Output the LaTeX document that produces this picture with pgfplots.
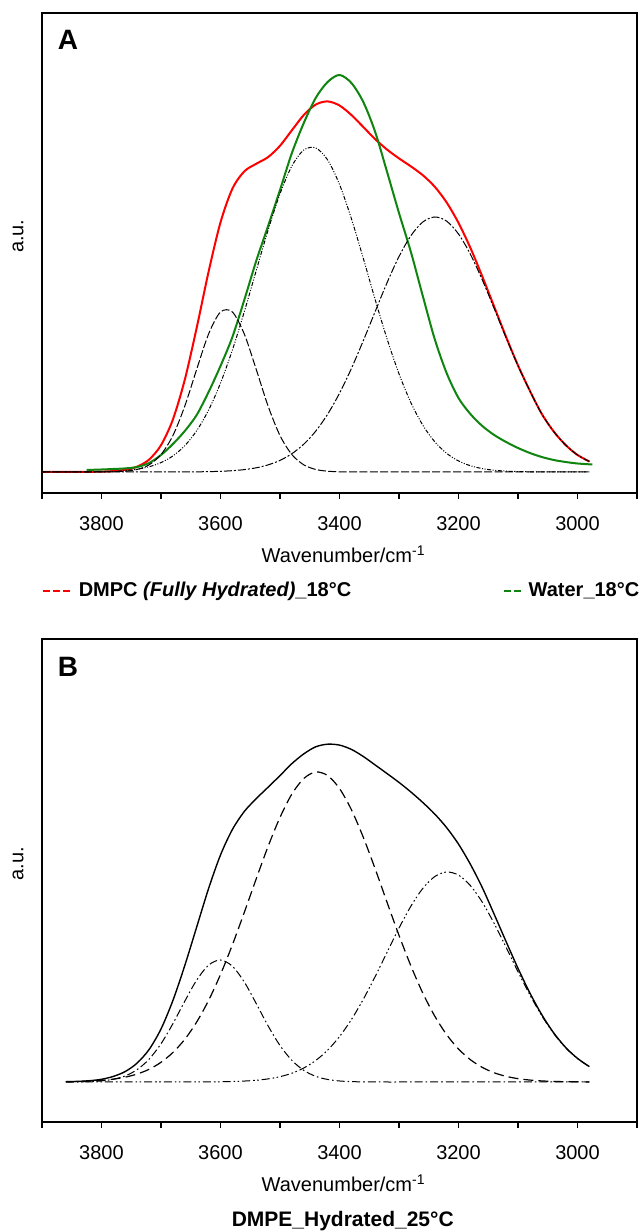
\documentclass[border=0pt]{standalone}
\usepackage{fontspec}
\setmainfont{Liberation Sans}
\usepackage{pgfplots}
\usepackage{pgfplotstable}
\pgfplotsset{compat=1.18}

\definecolor{dmpcred}{rgb}{1.00,0.00,0.00}
\definecolor{watergreen}{rgb}{0.06,0.52,0.06}

% panel A: DMPC total, three components (values in px above baseline)
\pgfplotstableread{
x red c1 c2 c3
3900 0.00 0.00 0.00 0.00
3880 0.01 0.00 0.01 0.00
3860 0.03 0.00 0.03 0.00
3840 0.06 0.00 0.06 0.00
3820 0.16 0.01 0.15 0.00
3800 0.38 0.05 0.33 0.00
3780 0.91 0.21 0.70 0.00
3760 2.21 0.78 1.43 0.00
3740 5.34 2.54 2.80 0.00
3720 12.4 7.16 5.23 0.01
3700 26.8 17.4 9.37 0.02
3680 52.5 36.4 16.05 0.04
3660 92.3 65.9 26.3 0.08
3640 144.2 102.7 41.3 0.17
3620 200.3 138.0 61.9 0.35
3600 249.6 160.0 88.9 0.69
3580 283.3 160.0 122.0 1.31
3560 300.6 138.0 160.2 2.38
3540 308.2 102.7 201.3 4.19
3520 314.9 65.9 241.9 7.10
3500 326.2 36.4 278.2 11.6
3480 341.7 17.4 306.0 18.3
3460 357.0 7.16 322.0 27.8
3440 367.4 2.54 324.1 40.8
3420 370.6 0.78 312.1 57.7
3400 366.5 0.21 287.6 78.7
3380 357.0 0.05 253.4 103.5
3360 345.0 0.00 213.7 131.3
3340 332.8 0.00 172.3 160.5
3320 322.4 0.00 133.0 189.4
3300 313.6 0.00 98.2 215.4
3280 305.6 0.00 69.3 236.3
3260 296.8 0.00 46.8 250.0
3240 285.3 0.00 30.3 255.0
3220 269.6 0.00 18.7 250.9
3200 249.1 0.00 11.06 238.0
3180 224.1 0.00 6.26 217.8
3160 195.5 0.00 3.39 192.1
3140 165.3 0.00 1.75 163.5
3120 135.1 0.00 0.87 134.2
3100 106.6 0.00 0.41 106.2
3080 81.2 0.00 0.19 81.0
3060 58.1 0.00 0.08 58.0
3040 40.5 0.00 0.03 40.5
3020 27.0 0.00 0.01 27.0
3000 17.0 0.00 0.00 17.0
2980 10.5 0.00 0.00 10.5
}\dmpc

\pgfplotstableread{
x y
3825 2.0
3800 2.5
3780 3.0
3760 3.6
3740 5.0
3720 9.0
3700 17
3680 28
3660 41
3640 57
3620 80
3600 106
3580 135
3560 172
3540 211
3520 246
3500 282
3480 319
3460 349
3440 374
3420 390
3400 397
3380 389
3360 370
3340 340
3320 300
3300 259
3280 220
3260 176
3240 133
3220 99
3200 74
3180 58
3160 46
3140 37
3120 30
3100 24
3080 19
3060 15
3040 12
3020 10
3000 8.5
2975 7.5
}\water

% panel B: DMPE total and three components
\pgfplotstableread{
x tot d l r
3860 0.3 0.25 0.04 0.00
3840 0.6 0.48 0.14 0.00
3820 1.3 0.90 0.42 0.00
3800 2.7 1.62 1.12 0.00
3780 5.6 2.85 2.75 0.00
3760 10.5 4.85 6.12 0.00
3740 19.0 7.98 12.4 0.00
3720 32.5 12.7 22.8 0.00
3700 53.0 19.7 38.2 0.01
3680 81.5 29.5 58.3 0.01
3660 116.5 42.7 80.8 0.03
3640 155.0 60.0 101.9 0.06
3620 193.5 81.6 116.9 0.12
3600 227.0 107.5 122.0 0.25
3580 252.5 137.2 115.8 0.49
3560 270.5 169.6 100.0 0.94
3540 283.3 203.1 78.5 1.74
3520 294.8 235.6 56.1 3.10
3500 306.4 264.6 36.5 5.32
3480 318.4 288.0 21.6 8.79
3460 328.1 303.5 11.6 14.0
3440 335.2 310.0 5.68 21.5
3420 337.8 306.5 2.53 31.8
3400 336.9 293.5 1.02 45.4
3380 332.6 272.3 0.38 62.4
3360 325.5 244.7 0.13 82.7
3340 317.0 213.1 0.04 105.5
3320 308.4 179.6 0.00 129.8
3300 299.6 146.7 0.00 153.9
3280 290.0 116.1 0.00 175.8
3260 279.5 88.9 0.00 193.6
3240 268.0 66.0 0.00 205.4
3220 254.4 47.4 0.00 210.0
3200 237.9 33.0 0.00 206.9
3180 217.7 22.3 0.00 196.4
3160 194.4 14.6 0.00 179.8
3140 167.7 9.21 0.00 158.5
3120 140.4 5.65 0.00 134.7
3100 113.7 3.35 0.00 110.3
3080 89.0 1.93 0.00 87.1
3060 67.3 1.07 0.00 66.2
3040 49.1 0.58 0.00 48.5
3020 34.6 0.30 0.00 34.3
3000 23.6 0.15 0.00 23.4
2980 15.4 0.08 0.00 15.3
}\dmpe

\pgfplotsset{
  spectrum/.style={
    scale only axis, width=297.5pt,
    x dir=reverse, xmin=2900, xmax=3900,
    xtick={3000,3200,...,3800},
    minor xtick={2900,3100,...,3900},
    xtick pos=left, tick align=outside,
    major tick length=3pt, minor tick length=3pt,
    every tick/.style={black, line width=0.6pt},
    ytick=\empty,
    scaled x ticks=false,
    /pgf/number format/1000 sep={},
    /pgf/number format/assume math mode=true,
    ticklabel style={font=\fontsize{10}{12}\selectfont},
    xticklabel style={yshift=-5pt},
    axis line style={line width=0.8pt},
    label style={font=\fontsize{10}{12}\selectfont},
    xlabel={Wavenumber/cm\textsuperscript{-1}},
    xlabel style={at={(axis description cs:0.507,0)}, anchor=center, yshift=-30.5pt},
    ylabel={a.u.},
    ylabel style={at={(axis description cs:-0.040,0.535)}, anchor=center},
  },
}

\begin{document}
\begin{tikzpicture}
\path[use as bounding box] (0,0) rectangle (319.5pt,616pt);

\begin{axis}[spectrum,
  at={(21pt,369.5pt)}, anchor=south west,
  height=240pt, ymin=-21, ymax=459,
  legend columns=2,
  legend cell align=left,
  legend style={at={(axis description cs:0,0)}, anchor=north west,
    yshift=-42.5pt, draw=none, fill=none, inner sep=0pt,
    font=\fontsize{10}{12}\bfseries\selectfont,
    /tikz/every odd column/.append style={column sep=0.5pt},
    /tikz/every even column/.append style={column sep=74pt}},
]
\addlegendimage{dmpcred, line width=0.7pt, dash pattern=on 3.5pt off 1.5pt,
  legend image code/.code={\draw (0pt,0pt) -- (15pt,0pt);}}
\addlegendentry{DMPC \textit{(Fully Hydrated)}\_18°C}
\addlegendimage{watergreen, line width=0.7pt, dash pattern=on 3.5pt off 1.5pt,
  legend image code/.code={\draw (0pt,0pt) -- (9.5pt,0pt);}}
\addlegendentry{Water\_18°C}

\addplot[forget plot, dmpcred, line width=1pt, smooth] table[x=x, y=red] {\dmpc};
\addplot[forget plot, watergreen, line width=1pt, smooth] table[x=x, y=y] {\water};
\addplot[forget plot, black, line width=0.5pt, smooth, dash pattern=on 4pt off 1.2pt] table[x=x, y=c1] {\dmpc};
\addplot[forget plot, black, line width=0.5pt, smooth, dash pattern=on 2pt off 0.8pt on 0.5pt off 0.8pt on 0.5pt off 0.8pt] table[x=x, y=c2] {\dmpc};
\addplot[forget plot, black, line width=0.5pt, smooth, dash pattern=on 4pt off 1pt on 1pt off 1pt] table[x=x, y=c3] {\dmpc};

\node[font=\fontsize{14}{16}\bfseries\selectfont] at (axis description cs:0.0437,0.944) {A};
\end{axis}

\begin{axis}[spectrum,
  at={(21pt,55pt)}, anchor=south west,
  height=241.5pt, ymin=-40, ymax=443, clip=false,
]
\addplot[black, line width=0.7pt, smooth] table[x=x, y=tot] {\dmpe};
\addplot[black, line width=0.6pt, smooth, dash pattern=on 5pt off 2.5pt] table[x=x, y=d] {\dmpe};
\addplot[black, line width=0.5pt, smooth, dash pattern=on 4pt off 1.5pt on 0.8pt off 1.5pt] table[x=x, y=l] {\dmpe};
\addplot[black, line width=0.5pt, smooth, dash pattern=on 4pt off 1.5pt on 0.8pt off 1.2pt on 0.8pt off 1.5pt] table[x=x, y=r] {\dmpe};

\node[font=\fontsize{14}{16}\bfseries\selectfont] at (axis description cs:0.0437,0.942) {B};
\node[font=\fontsize{10.5}{12}\bfseries\selectfont] at (axis description cs:0.5055,0) [yshift=-49.5pt] {DMPE\_Hydrated\_25°C};
\end{axis}
\end{tikzpicture}
\end{document}
